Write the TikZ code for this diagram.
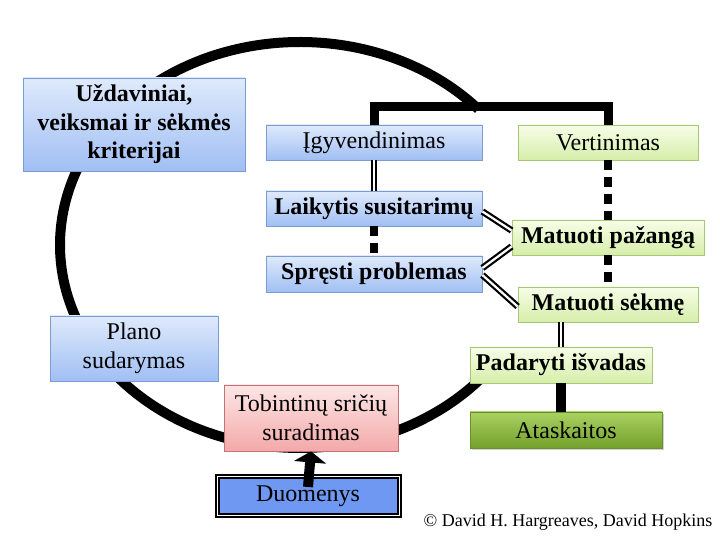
\documentclass[tikz,border=0pt]{standalone}
\usepackage{fontspec}
\setmainfont{Liberation Serif}
\usetikzlibrary{arrows.meta,positioning,shadows}

\definecolor{bluetop}{HTML}{DFEAFC}
\definecolor{bluebot}{HTML}{A0BFF3}
\definecolor{blueline}{HTML}{7C9CCF}
\definecolor{greentop}{HTML}{F7FDE8}
\definecolor{greenbot}{HTML}{D6EEA9}
\definecolor{greenline}{HTML}{A7C67A}
\definecolor{pinktop}{HTML}{FDE6E6}
\definecolor{pinkbot}{HTML}{F3A9A9}
\definecolor{pinkline}{HTML}{C27474}
\definecolor{repttop}{HTML}{A9D262}
\definecolor{reptbot}{HTML}{74A02C}
\definecolor{reptline}{HTML}{6B8E2E}
\definecolor{datafill}{HTML}{6E98F2}

\tikzset{
  box/.style={rectangle, inner sep=0pt, align=center, line width=0.8pt},
  bluebox/.style={box, draw=blueline, top color=bluetop, bottom color=bluebot},
  greenbox/.style={box, draw=greenline, top color=greentop, bottom color=greenbot},
  pinkbox/.style={box, draw=pinkline, top color=pinktop, bottom color=pinkbot},
  reptbox/.style={box, draw=reptline, top color=repttop, bottom color=reptbot,
    drop shadow={shadow xshift=2pt, shadow yshift=-2pt, opacity=0.35}},
  databox/.style={box, fill=datafill, draw=black, line width=2pt, double=white, double distance=1pt},
  ring/.style={draw, line width=10pt},
  thickbar/.style={draw, line width=9pt},
  dbl/.style={draw, double, line width=2.2pt, double distance=2.2pt},
  dsh/.style={draw, line width=8pt, dash pattern=on 10pt off 7pt},
  bigarrow/.style={draw, line width=10pt, -{Triangle[width=32pt,length=11pt]}}
}

\begin{document}
\fontsize{24}{28.5}\selectfont
\begin{tikzpicture}[x=1pt,y=1pt,node distance=66pt]
  \useasboundingbox (0,0) rectangle (720,540);
  \draw[ring] (300,295) ++(42:240 and 203)
    arc[start angle=42, end angle=320, x radius=240, y radius=203];

  \node[bluebox,font=\bfseries,minimum width=222pt,minimum height=93pt] (goals) at (134,415.5)
    {Uždaviniai,\\veiksmai ir sėkmės\\kriterijai};
  \node[bluebox,minimum width=216pt,minimum height=35pt] (impl) at (374,397.5) {Įgyvendinimas};
  \node[greenbox,minimum width=180pt,minimum height=35pt] (eval) [right of=impl,node distance=234pt] {Vertinimas};
  \node[bluebox,font=\bfseries,minimum width=216pt,minimum height=35pt] (keep) [below of=impl] {Laikytis susitarimų};
  \node[bluebox,font=\bfseries,minimum width=216pt,minimum height=36pt] (solve) [below of=keep,node distance=65.5pt] {Spręsti problemas};
  \node[greenbox,font=\bfseries,minimum width=192pt,minimum height=35pt] (prog) at (608,302.5) {Matuoti pažangą};
  \node[greenbox,font=\bfseries,minimum width=180pt,minimum height=35pt] (succ) [below of=prog,node distance=67pt] {Matuoti sėkmę};
  \node[bluebox,minimum width=168pt,minimum height=65pt] (plan) at (134,191.5) {Plano\\sudarymas};
  \node[greenbox,font=\bfseries,minimum width=182pt,minimum height=36pt] (concl) at (561,175) {Padaryti išvadas};
  \node[pinkbox,minimum width=174pt,minimum height=66pt] (find) at (311,122) {Tobintinų sričių\\suradimas};
  \node[reptbox,minimum width=192pt,minimum height=36pt] (rept) at (566,110) {Ataskaitos};
  \node[databox,minimum width=182pt,minimum height=39pt] (data) at (308,43.5) {Duomenys};
  \node[font=\fontsize{18}{20}\selectfont] (copy) at (568,18) {© David H. Hargreaves, David Hopkins};

  \draw[thickbar] (impl.north) -- ++(0,18) -| (eval.north);
  \path (impl) edge[dbl] (keep)
        (keep) edge[dsh] (solve)
        (eval) edge[dsh] (prog)
        (prog) edge[dsh] (succ);
  \draw[dbl] ([yshift=-3pt]keep.east) -- ([yshift=7pt]prog.west);
  \draw[dbl] ([yshift=6pt]solve.east) -- ([yshift=-9pt]prog.west);
  \draw[dbl] ([yshift=-1pt]solve.east) -- ([yshift=-2pt]succ.west);
  \draw[dbl] (concl.north |- succ.south) -- (concl.north);
  \draw[thickbar,line width=10pt] (concl.south) -- (concl.south |- rept.north);
  \draw[bigarrow] ([yshift=-11pt]data.north) -- (find.south);
\end{tikzpicture}
\end{document}
